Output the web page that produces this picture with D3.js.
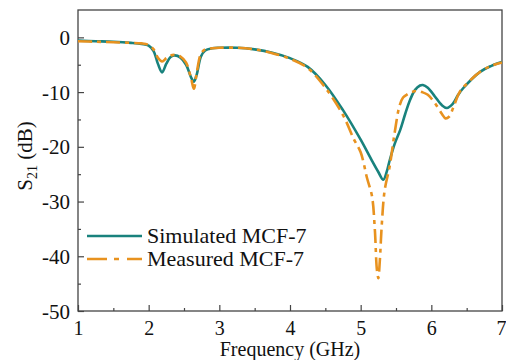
<!DOCTYPE html>
<html>
<head>
<meta charset="utf-8">
<script src="https://d3js.org/d3.v7.min.js"></script>
<style>
body { margin: 0; background: #fff; }
svg { display: block; font-family: 'Liberation Serif', 'Times New Roman', serif; }
</style>
</head>
<body>
<svg id="chart" width="506" height="360"></svg>
<script>
// simulated S21 (dB) vs frequency (GHz)
var simFreq = [1.0, 1.25, 1.5, 1.75, 1.9, 2.0, 2.07, 2.13, 2.19, 2.25, 2.31, 2.37, 2.45, 2.53, 2.6, 2.64, 2.68, 2.74, 2.8, 2.9,
  3.0, 3.25, 3.5, 3.75, 4.0, 4.25, 4.5, 4.75, 5.0, 5.15, 5.25, 5.32, 5.37, 5.41, 5.48, 5.56, 5.63, 5.7, 5.77, 5.84,
  5.88, 5.95, 6.05, 6.15, 6.22, 6.3, 6.38, 6.45, 6.69, 6.85, 7.0];
var simS21 = [-0.6, -0.7, -0.8, -1.0, -1.2, -1.5, -2.5, -4.8, -6.4, -4.8, -3.6, -3.3, -3.7, -5.0, -7.3, -8.1, -6.8, -3.5, -2.4, -2.0,
  -1.9, -1.9, -2.2, -2.8, -3.8, -5.4, -8.7, -13.3, -18.7, -22.3, -24.6, -26.0, -24.5, -22.5, -19.5, -16.9, -14.0, -11.4, -9.6, -8.8,
  -8.7, -9.2, -10.8, -12.4, -12.9, -12.2, -10.5, -9.3, -6.3, -5.2, -4.5];

// measured S21
var measFreq = [1.0, 1.25, 1.5, 1.75, 1.9, 2.0, 2.07, 2.13, 2.19, 2.25, 2.31, 2.37, 2.45, 2.53, 2.6, 2.64, 2.68, 2.74, 2.8, 2.9,
  3.0, 3.25, 3.5, 3.75, 4.0, 4.25, 4.5, 4.75, 4.9, 5.0, 5.09, 5.16, 5.2, 5.23, 5.25, 5.27, 5.3, 5.34, 5.41, 5.48,
  5.55, 5.6, 5.65, 5.72, 5.8, 5.87, 5.95, 6.05, 6.15, 6.2, 6.25, 6.32, 6.4, 6.5, 6.69, 6.85, 7.0];
var measS21 = [-0.7, -0.8, -0.9, -1.0, -1.1, -1.4, -2.2, -3.7, -4.4, -3.8, -3.3, -3.2, -3.5, -4.6, -7.5, -9.4, -6.5, -3.0, -2.2, -2.0,
  -1.9, -1.9, -2.2, -2.9, -3.9, -5.6, -9.2, -14.2, -18.5, -21.0, -25.7, -29.0, -35.0, -42.5, -44.0, -41.0, -34.0, -27.9, -23.6, -17.5,
  -12.5, -11.0, -10.5, -10.0, -9.8, -10.0, -10.5, -12.0, -14.0, -14.8, -14.5, -12.5, -10.0, -8.5, -6.3, -5.2, -4.6];

var xTicks = [1, 2, 3, 4, 5, 6, 7];
var yTicks = [0, -10, -20, -30, -40, -50];
var seriesNames = ["Simulated MCF-7", "Measured MCF-7"];
var seriesColors = ["#19827d", "#e8921f"];

var svg = d3.select("#chart");
var x = d3.scaleLinear().domain([1, 7]).range([78, 502]);
var y = d3.scaleLinear().domain([-50, 5]).range([311, 10]);

// frame
svg.append("rect")
  .attr("x", 78).attr("y", 10)
  .attr("width", 424).attr("height", 301)
  .attr("fill", "none").attr("stroke", "#444").attr("stroke-width", 1.3);

// inward ticks, hyphen minus like the original
var xAxis = d3.axisBottom(x).tickValues(xTicks).tickSizeInner(-6).tickSizeOuter(0).tickFormat(function (d) { return String(d); });
var xMinor = d3.axisBottom(x).tickValues(d3.range(1.5, 7, 1)).tickSizeInner(-3).tickSizeOuter(0).tickFormat("");
var yAxis = d3.axisLeft(y).tickValues(yTicks).tickSizeInner(-6).tickSizeOuter(0).tickFormat(function (d) { return String(d); });
var yMinor = d3.axisLeft(y).tickValues(d3.range(-45, 5, 10)).tickSizeInner(-3).tickSizeOuter(0).tickFormat("");

function styleAxis(g) {
  g.select(".domain").remove();
  g.selectAll("line").attr("stroke", "#444").attr("stroke-width", 1.2);
  g.selectAll("text").attr("fill", "#111").attr("font-size", 21)
    .attr("font-family", "'Liberation Serif', serif");
}

var xg = svg.append("g").attr("transform", "translate(0,311)").call(xAxis).call(styleAxis);
xg.selectAll("text").attr("dy", null).attr("y", 24).attr("font-size", 20);
// last label sits on the right edge, as in the original
xg.selectAll(".tick").filter(function (d) { return d === 7; }).select("text").attr("text-anchor", "end").attr("x", 4);
svg.append("g").attr("transform", "translate(0,311)").call(xMinor).call(styleAxis);
svg.append("g").attr("transform", "translate(78,0)").call(yAxis).call(styleAxis)
  .selectAll("text").attr("x", -8).attr("dy", "0.34em");
svg.append("g").attr("transform", "translate(78,0)").call(yMinor).call(styleAxis);

// curves
var line = d3.line().curve(d3.curveCatmullRom.alpha(0.5))
  .x(function (d) { return x(d[0]); })
  .y(function (d) { return y(d[1]); });

var simData = simFreq.map(function (f, i) { return [f, simS21[i]]; });
var measData = measFreq.map(function (f, i) { return [f, measS21[i]]; });

svg.append("path").datum(simData)
  .attr("d", line).attr("fill", "none")
  .attr("stroke", seriesColors[0]).attr("stroke-width", 2.6);

svg.append("path").datum(measData)
  .attr("d", line).attr("fill", "none")
  .attr("stroke", seriesColors[1]).attr("stroke-width", 2.6)
  .attr("stroke-dasharray", "14,5,4,5");

// legend
var legend = svg.append("g");
[0, 1].forEach(function (i) {
  var ly = 236 + i * 23;
  legend.append("line")
    .attr("x1", 87).attr("x2", 142).attr("y1", ly).attr("y2", ly)
    .attr("stroke", seriesColors[i]).attr("stroke-width", 2.6)
    .attr("stroke-dasharray", i === 1 ? "20,7,5,8" : null);
  legend.append("text")
    .text(seriesNames[i])
    .attr("x", 147).attr("y", ly + 6.5)
    .attr("font-size", 22).attr("fill", "#111");
});

// axis titles
svg.append("text")
  .text("Frequency (GHz)")
  .attr("x", 290).attr("y", 356)
  .attr("text-anchor", "middle").attr("font-size", 20).attr("fill", "#111");

var yl = svg.append("text")
  .attr("transform", "translate(32,156) rotate(-90)")
  .attr("text-anchor", "middle").attr("font-size", 21).attr("fill", "#111");
yl.append("tspan").text("S");
yl.append("tspan").text("21").attr("font-size", 14).attr("dy", 5);
yl.append("tspan").text(" (dB)").attr("dy", -5);
</script>
</body>
</html>
